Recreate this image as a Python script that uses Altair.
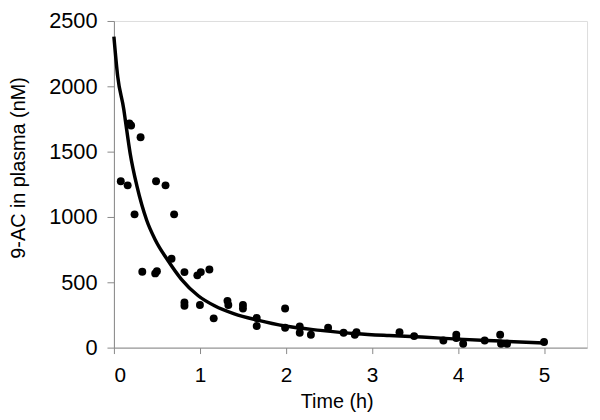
import altair as alt
import pandas as pd

# Observed plasma concentrations (time in h, concentration in nM)
obs_time = [0.08, 0.16, 0.18, 0.20, 0.24, 0.31, 0.33, 0.48, 0.49, 0.50,
            0.60, 0.67, 0.70, 0.82, 0.82, 0.82, 0.97, 1.00, 1.01, 1.11,
            1.16, 1.32, 1.33, 1.50, 1.50, 1.66, 1.66, 1.99, 1.99, 2.16,
            2.16, 2.29, 2.49, 2.67, 2.80, 2.82, 3.32, 3.49, 3.83, 3.98,
            3.98, 4.06, 4.31, 4.49, 4.50, 4.57, 5.00]
obs_conc = [1273, 1242, 1715, 1700, 1020, 1610, 581, 568, 1273, 585,
            1242, 680, 1020, 578, 346, 320, 553, 326, 578, 598,
            224, 358, 326, 326, 300, 227, 165, 300, 152, 162,
            114, 98, 152, 114, 98, 118, 118, 88, 55, 98,
            73, 30, 55, 98, 30, 30, 43]

# Fitted curve
fit_time = [0, 0.044, 0.115, 0.134, 0.19, 0.27, 0.38, 0.48, 0.63, 0.785,
            0.98, 1.17, 1.40, 1.67, 1.99, 2.4, 2.82, 3.2, 3.58, 4.0, 4.5, 5.0]
fit_conc = [2380, 2076, 1823, 1735, 1482, 1230, 977, 826, 665, 523,
            397, 320, 258, 210, 165, 132, 106, 92, 81, 65, 50, 35]

x_ticks = [0, 1, 2, 3, 4, 5]
y_ticks = [0, 500, 1000, 1500, 2000, 2500]

obs = pd.DataFrame({"t": obs_time, "c": obs_conc})
fit = pd.DataFrame({"t": fit_time, "c": fit_conc})

FONT = "Liberation Sans"

x_enc = alt.X(
    "t:Q",
    scale=alt.Scale(domain=[0, 5.5], nice=False),
    axis=alt.Axis(
        title="Time (h)", values=x_ticks, format="d", grid=False,
        tickSize=6, labelPadding=11, labelFontSize=21, titleFontSize=20,
        titleFontWeight="normal", titleX=225, titleY=61,
        titleBaseline="alphabetic", titleAlign="center",
    ),
)
y_enc = alt.Y(
    "c:Q",
    scale=alt.Scale(domain=[0, 2500], nice=False),
    axis=alt.Axis(
        title="9-AC in plasma (nM)", values=y_ticks, format="d", grid=False,
        tickSize=7, labelPadding=10, labelFontSize=22, titleFontSize=20,
        titleFontWeight="normal", titleX=-96, titleY=148,
        titleAngle=270, titleBaseline="middle", titleAlign="center",
    ),
)

points = alt.Chart(obs).mark_circle(size=64, color="black", opacity=1).encode(
    x=x_enc, y=y_enc
)
curve = alt.Chart(fit).mark_line(
    color="black", strokeWidth=3.5, interpolate="monotone"
).encode(x="t:Q", y="c:Q")

chart = (
    alt.layer(points, curve)
    .properties(
        width=478, height=330,
        autosize=alt.AutoSizeParams(type="none"),
        padding={"left": 107, "top": 11, "right": 5, "bottom": 70},
    )
    .configure_view(stroke=None)
    .configure_axis(
        domainColor="black", domainWidth=1.5, tickColor="black", tickWidth=1.5,
        labelColor="black", titleColor="black", labelFont=FONT, titleFont=FONT,
    )
    .configure(background="white")
)

chart.save("out.html", embed_options={"renderer": "svg", "actions": False})
